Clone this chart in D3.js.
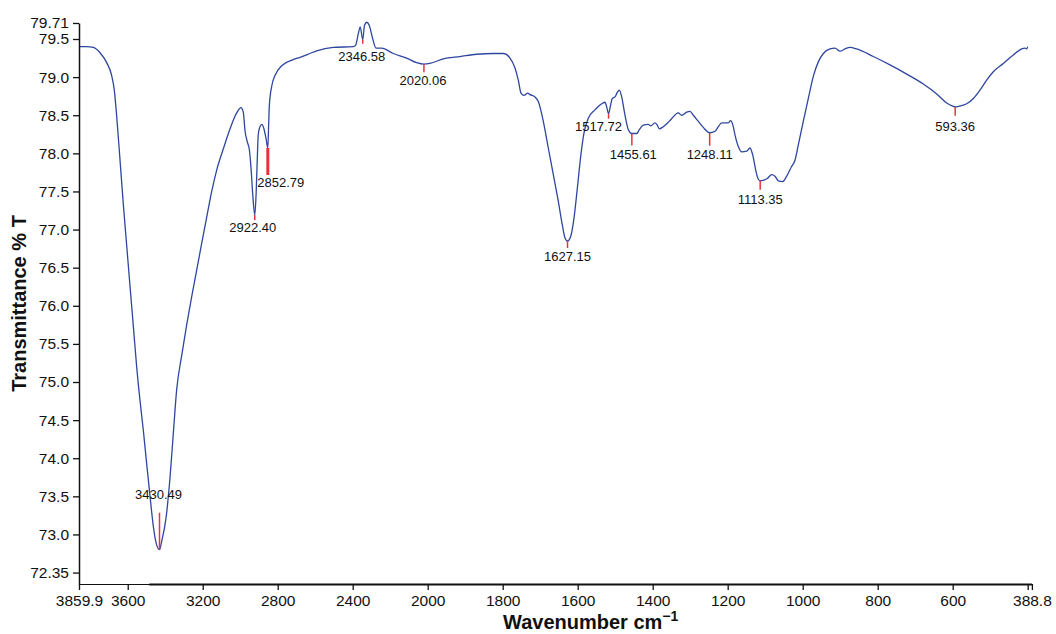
<!DOCTYPE html>
<html>
<head>
<meta charset="utf-8">
<script src="https://cdn.jsdelivr.net/npm/d3@7/dist/d3.min.js"></script>
<style>
  html, body { margin: 0; padding: 0; background: #ffffff; }
  svg { display: block; font-family: Arial, "Liberation Sans", sans-serif; }
</style>
</head>
<body>
<svg id="chart" width="1056" height="634"></svg>
<script>
// ---------------- DATA ----------------
const wavenumbers = [
  3859.9, 3820, 3783.6, 3747.9, 3712, 3685.5, 3671.6, 3659, 3641, 3623.5,
  3605.5, 3587.9, 3570, 3552, 3534.6, 3517, 3499, 3481, 3463.6, 3445.5,
  3430.49, 3418.9, 3396, 3374.6, 3357, 3338.9, 3312, 3285.6, 3258.8, 3232,
  3205.5, 3179, 3152, 3125.5, 3090, 3054.6, 3018.9, 2996, 2983.6, 2974.6,
  2962.2, 2951.5, 2942.5, 2933.5, 2922.4, 2915.5, 2910, 2903.6, 2894.6, 2884,
  2873.3, 2862.6, 2852.79, 2848, 2844.8, 2832, 2814.6, 2778.9, 2716.9, 2681,
  2628, 2592, 2503.6, 2397, 2384, 2370, 2360, 2346.58, 2337, 2325,
  2312, 2294, 2276, 2245.6, 2183.8, 2112.4, 2059, 2020.06, 1993.9, 1958.4,
  1913.9, 1869.3, 1825, 1798.4, 1780.5, 1767.2, 1758.4, 1751.2, 1743.2, 1733.3,
  1727.2, 1713.9, 1705, 1691.7, 1678.4, 1665, 1651.7, 1641, 1633.9, 1627.15,
  1618.7, 1609.9, 1601, 1592, 1583.2, 1571.7, 1553.9, 1536, 1527.2, 1522.7,
  1517.72, 1512, 1507.7, 1500.5, 1494.4, 1489, 1482.7, 1473.9, 1465, 1455.61,
  1442.7, 1435.7, 1425.1, 1411.7, 1405.3, 1393.9, 1387.7, 1382.4, 1371.7, 1353.9,
  1331.7, 1322.7, 1309.3, 1300.5, 1291.7, 1278.4, 1265, 1248.11, 1233.9, 1225,
  1216, 1198.4, 1192, 1186.7, 1180.5, 1171.7, 1162.7, 1149.3, 1140.5, 1133.3,
  1125.3, 1118.4, 1113.35, 1103.2, 1094.4, 1082.7, 1073.9, 1065, 1053.3, 1042.7,
  1029.3, 1020.5, 1011.7, 998.4, 985, 971.7, 958.4, 945, 927.2, 913.9,
  900.5, 887.2, 873.9, 856, 811.7, 767.2, 722.7, 678.4, 642.7, 616,
  600, 593.36, 582, 562.7, 545, 527.2, 509.4, 491.7, 465, 438.4,
  416, 407.2, 402.7, 400
];
const transmittance = [
  79.40, 79.40, 79.39, 79.32, 79.19, 79.02, 78.83, 78.49, 77.91, 77.33,
  76.79, 76.26, 75.73, 75.19, 74.76, 74.37, 73.93, 73.50, 73.11, 72.86,
  72.80, 72.91, 73.21, 73.74, 74.32, 74.90, 75.35, 75.75, 76.12, 76.47,
  76.82, 77.16, 77.50, 77.78, 78.06, 78.32, 78.53, 78.60, 78.54, 78.30,
  78.15, 78.05, 77.81, 77.47, 77.19, 77.45, 77.85, 78.25, 78.35, 78.38,
  78.32, 78.20, 78.07, 78.40, 78.62, 78.88, 79.02, 79.15, 79.23, 79.26,
  79.31, 79.345, 79.39, 79.40, 79.42, 79.57, 79.66, 79.49, 79.68, 79.72,
  79.68, 79.51, 79.38, 79.38, 79.31, 79.25, 79.19, 79.17, 79.18, 79.24,
  79.27, 79.30, 79.31, 79.31, 79.25, 79.12, 78.96, 78.79, 78.76, 78.79,
  78.77, 78.74, 78.68, 78.42, 78.07, 77.72, 77.37, 77.06, 76.89, 76.85,
  76.91, 77.15, 77.54, 77.96, 78.27, 78.46, 78.57, 78.65, 78.67, 78.61,
  78.52, 78.64, 78.72, 78.74, 78.80, 78.83, 78.74, 78.50, 78.31, 78.26,
  78.26, 78.31, 78.37, 78.38, 78.36, 78.40, 78.37, 78.32, 78.35, 78.43,
  78.53, 78.50, 78.54, 78.55, 78.50, 78.42, 78.34, 78.27, 78.29, 78.35,
  78.40, 78.40, 78.43, 78.38, 78.24, 78.09, 78.02, 78.03, 78.07, 77.98,
  77.78, 77.66, 77.64, 77.65, 77.67, 77.72, 77.70, 77.64, 77.63, 77.70,
  77.83, 77.91, 78.11, 78.42, 78.72, 79.01, 79.20, 79.31, 79.37, 79.38,
  79.34, 79.37, 79.39, 79.37, 79.27, 79.16, 79.04, 78.91, 78.78, 78.66,
  78.62, 78.61, 78.62, 78.65, 78.72, 78.83, 78.96, 79.07, 79.18, 79.29,
  79.37, 79.38, 79.37, 79.40
];

const peakWavenumbers = [3430.49, 2922.40, 2852.79, 2346.58, 2020.06, 1627.15, 1517.72, 1455.61, 1248.11, 1113.35, 593.36];
const peakTransmittance = [72.80, 77.19, 78.07, 79.49, 79.17, 76.85, 78.52, 78.26, 78.27, 77.64, 78.61];
const peakLabels = ["3430.49", "2922.40", "2852.79", "2346.58", "2020.06", "1627.15", "1517.72", "1455.61", "1248.11", "1113.35", "593.36"];

const xTickValues = [3859.9, 3600, 3200, 2800, 2400, 2000, 1800, 1600, 1400, 1200, 1000, 800, 600, 400, 388.8];
const xTickLabels = ["3859.9", "3600", "3200", "2800", "2400", "2000", "1800", "1600", "1400", "1200", "1000", "800", "600", "", "388.8"];

const yTickValues = [72.5, 73.0, 73.5, 74.0, 74.5, 75.0, 75.5, 76.0, 76.5, 77.0, 77.5, 78.0, 78.5, 79.0, 79.5, 79.71];
const yTickLabels = ["72.35", "73.0", "73.5", "74.0", "74.5", "75.0", "75.5", "76.0", "76.5", "77.0", "77.5", "78.0", "78.5", "79.0", "79.5", "79.71"];

// ---------------- LAYOUT (annotation placement, not data) ----------------
const peakLayout = [
  { len: -37, dx: -1, dy: -51, w: 1.5 },
  { len: 5, dx: -2, dy: 17, w: 1.5 },
  { len: 27, dx: 13, dy: 39, w: 3 },
  { len: 4, dx: -1, dy: 21, w: 1.5 },
  { len: 8, dx: -1, dy: 21, w: 1.5 },
  { len: 7, dx: 0, dy: 20.5, w: 1.5 },
  { len: 5, dx: -10, dy: 17.5, w: 1.5 },
  { len: 12, dx: 1.5, dy: 25.3, w: 1.5 },
  { len: 13, dx: 0, dy: 26, w: 1.5 },
  { len: 9, dx: 0, dy: 23.7, w: 1.5 },
  { len: 9, dx: 0, dy: 24.3, w: 1.5 }
];

// ---------------- CHART ----------------
(function () {
const svg = d3.select("#chart");
const plotL = 79, plotR = 1031.9, plotT = 23, plotB = 584;

const x = d3.scaleLinear()
  .domain([3859.9, 2000, 388.8])
  .range([plotL, 427.7, plotR]);
const y = d3.scaleLinear()
  .domain([72.35, 79.71])
  .range([plotB, plotT]);

const blue = "#2e46a0";
const red = "#e8333a";

// spectrum
const pts = wavenumbers.map((w, i) => [w, transmittance[i]]);
const line = d3.line()
  .x(d => x(d[0]))
  .y(d => y(d[1]))
  .curve(d3.curveMonotoneX);
svg.append("path")
  .datum(pts)
  .attr("fill", "none")
  .attr("stroke", blue)
  .attr("stroke-width", 1.3)
  .attr("stroke-linejoin", "round")
  .attr("d", line);

// peak annotations
const ann = svg.append("g");
peakWavenumbers.forEach((w, i) => {
  const L = peakLayout[i];
  const px = x(w), py = y(peakTransmittance[i]);
  ann.append("line")
    .attr("x1", px).attr("x2", px)
    .attr("y1", py).attr("y2", py + L.len)
    .attr("stroke", red)
    .attr("stroke-width", L.w);
  ann.append("text")
    .attr("x", px + L.dx)
    .attr("y", py + L.dy)
    .attr("text-anchor", "middle")
    .attr("font-size", 13)
    .attr("fill", "#111")
    .text(peakLabels[i]);
});

// axes
const xAxis = d3.axisBottom(x)
  .tickValues(xTickValues)
  .tickFormat((d, i) => xTickLabels[i])
  .tickSizeInner(6)
  .tickSizeOuter(0)
  .tickPadding(5);
const gx = svg.append("g")
  .attr("transform", `translate(0,${plotB})`)
  .call(xAxis);
gx.selectAll("text").attr("font-size", 15.5).attr("fill", "#111").attr("font-family", "Arial, 'Liberation Sans', sans-serif");
gx.selectAll("line").attr("stroke", "#111").attr("stroke-width", 1.3);
gx.select(".domain").attr("stroke", "#111").attr("stroke-width", 1.2);
// heavier section of the baseline, as in the reference
svg.append("line")
  .attr("x1", x(3485)).attr("x2", plotR)
  .attr("y1", plotB + 0.5).attr("y2", plotB + 0.5)
  .attr("stroke", "#111").attr("stroke-width", 2);

const yAxis = d3.axisLeft(y)
  .tickValues(yTickValues)
  .tickFormat((d, i) => yTickLabels[i])
  .tickSizeInner(6)
  .tickSizeOuter(0)
  .tickPadding(4);
const gy = svg.append("g")
  .attr("transform", `translate(${plotL},0)`)
  .call(yAxis);
gy.selectAll("text").attr("font-size", 15.5).attr("fill", "#111").attr("font-family", "Arial, 'Liberation Sans', sans-serif");
gy.selectAll("line").attr("stroke", "#111").attr("stroke-width", 1.3);
gy.select(".domain").attr("stroke", "#111").attr("stroke-width", 1.5);

// axis titles
const xt = svg.append("text")
  .attr("x", 503)
  .attr("y", 629)
  .attr("font-size", 20)
  .attr("font-weight", "bold")
  .attr("fill", "#111")
  .attr("text-anchor", "start");
xt.append("tspan").text("Wavenumber cm");
xt.append("tspan").attr("font-size", 14).attr("dy", -8).text("\u22121");

svg.append("text")
  .attr("transform", `translate(26,${(plotT + plotB) / 2}) rotate(-90)`)
  .attr("text-anchor", "middle")
  .attr("font-size", 20)
  .attr("font-weight", "bold")
  .attr("fill", "#111")
  .text("Transmittance % T");
})();
</script>
</body>
</html>
